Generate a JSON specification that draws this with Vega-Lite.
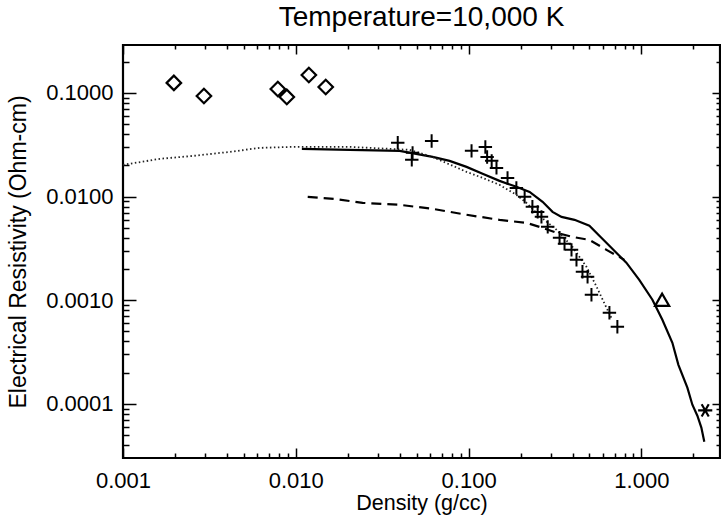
{
  "$schema": "https://vega.github.io/schema/vega-lite/v6.json",
  "width": 597,
  "height": 413,
  "autosize": "none",
  "padding": {"left": 123, "top": 45, "right": 1, "bottom": 58},
  "background": "white",
  "config": {
    "view": {"stroke": "black", "strokeWidth": 2.2},
    "font": "Liberation Sans",
    "axis": {"grid": false, "domain": false, "labelColor": "black", "titleColor": "black", "tickColor": "black", "tickWidth": 1.5, "labelFlush": false, "labelOverlap": false, "labelBound": false}
  },
  "title": {"text": "Temperature=10,000 K", "fontSize": 28, "font": "Liberation Sans", "fontWeight": "normal", "color": "black", "anchor": "middle", "frame": "group", "baseline": "alphabetic", "offset": -10},
  "datasets": {
    "solid": [
      {"x": 0.01084, "y": 0.02884}, {"x": 0.0205, "y": 0.02818}, {"x": 0.0399, "y": 0.02759}, {"x": 0.0619, "y": 0.02415},
      {"x": 0.0776, "y": 0.02208}, {"x": 0.0973, "y": 0.01933}, {"x": 0.1205, "y": 0.01656}, {"x": 0.151, "y": 0.01417},
      {"x": 0.189, "y": 0.01241}, {"x": 0.2254, "y": 0.01109}, {"x": 0.268, "y": 0.00889}, {"x": 0.306, "y": 0.00712},
      {"x": 0.345, "y": 0.00637}, {"x": 0.41, "y": 0.00596}, {"x": 0.5, "y": 0.00522}, {"x": 0.571, "y": 0.00418},
      {"x": 0.679, "y": 0.00313}, {"x": 0.818, "y": 0.0023}, {"x": 0.972, "y": 0.00157}, {"x": 1.158, "y": 0.00101},
      {"x": 1.322, "y": 0.000647}, {"x": 1.511, "y": 0.000388}, {"x": 1.637, "y": 0.000238}, {"x": 1.845, "y": 0.000143},
      {"x": 1.972, "y": 0.000098}, {"x": 2.108, "y": 0.0000767}, {"x": 2.223, "y": 0.0000589}, {"x": 2.312, "y": 0.0000431}
    ],
    "dashed": [
      {"x": 0.01172, "y": 0.00993}, {"x": 0.01679, "y": 0.0095}, {"x": 0.02438, "y": 0.00869}, {"x": 0.0399, "y": 0.00832},
      {"x": 0.0619, "y": 0.00761}, {"x": 0.0973, "y": 0.00667}, {"x": 0.151, "y": 0.00596}, {"x": 0.2163, "y": 0.00557},
      {"x": 0.257, "y": 0.0051}, {"x": 0.323, "y": 0.00447}, {"x": 0.399, "y": 0.00408}, {"x": 0.5, "y": 0.00382},
      {"x": 0.628, "y": 0.00306}, {"x": 0.798, "y": 0.00245}
    ],
    "dotted": [
      {"x": 0.001, "y": 0.02023}, {"x": 0.001637, "y": 0.02312}, {"x": 0.002543, "y": 0.02468}, {"x": 0.00415, "y": 0.02698},
      {"x": 0.00619, "y": 0.0295}, {"x": 0.00962, "y": 0.03015}, {"x": 0.0205, "y": 0.03015}, {"x": 0.0456, "y": 0.0282},
      {"x": 0.0619, "y": 0.0241}, {"x": 0.0973, "y": 0.0173}, {"x": 0.1205, "y": 0.01514}, {"x": 0.151, "y": 0.01297},
      {"x": 0.189, "y": 0.01039}, {"x": 0.2163, "y": 0.00869}, {"x": 0.257, "y": 0.00652}, {"x": 0.323, "y": 0.00477},
      {"x": 0.399, "y": 0.00327}, {"x": 0.481, "y": 0.0021}, {"x": 0.55, "y": 0.00135}, {"x": 0.628, "y": 0.000845},
      {"x": 0.679, "y": 0.000647}
    ],
    "plus": [
      {"x": 0.0389, "y": 0.033}, {"x": 0.0474, "y": 0.0264}, {"x": 0.0469, "y": 0.0226}, {"x": 0.0611, "y": 0.0344},
      {"x": 0.104, "y": 0.0276}, {"x": 0.125, "y": 0.0301}, {"x": 0.128, "y": 0.0241}, {"x": 0.136, "y": 0.0221},
      {"x": 0.145, "y": 0.0189}, {"x": 0.168, "y": 0.0151}, {"x": 0.189, "y": 0.0121}, {"x": 0.211, "y": 0.00993},
      {"x": 0.234, "y": 0.00796}, {"x": 0.251, "y": 0.00711}, {"x": 0.264, "y": 0.00637}, {"x": 0.287, "y": 0.0051},
      {"x": 0.336, "y": 0.004}, {"x": 0.359, "y": 0.0035}, {"x": 0.394, "y": 0.00306}, {"x": 0.421, "y": 0.00245},
      {"x": 0.456, "y": 0.00188}, {"x": 0.488, "y": 0.00168}, {"x": 0.514, "y": 0.00113}, {"x": 0.653, "y": 0.000756},
      {"x": 0.726, "y": 0.000554}
    ],
    "diamond": [
      {"x": 0.00197, "y": 0.125}, {"x": 0.00294, "y": 0.0935}, {"x": 0.00787, "y": 0.109},
      {"x": 0.00887, "y": 0.0915}, {"x": 0.0119, "y": 0.149}, {"x": 0.0149, "y": 0.114}
    ],
    "triangle": [{"x": 1.318, "y": 0.00101}],
    "star": [{"x": 2.34, "y": 0.0000863}]
  },
  "resolve": {"axis": {"x": "independent", "y": "independent"}},
  "layer": [
    {
      "data": {"name": "solid"},
      "mark": {"type": "line", "color": "black", "strokeWidth": 2.2},
      "encoding": {
        "x": {"field": "x", "type": "quantitative", "scale": {"type": "log", "domain": [0.001, 2.85], "nice": false},
          "axis": {"orient": "bottom", "values": [0.001, 0.01, 0.1, 1], "format": ".3f", "ticks": false, "tickSize": 0, "labelFontSize": 22, "labelPadding": 12, "title": "Density (g/cc)", "titleFontSize": 21.5, "titleFontWeight": "normal", "titlePadding": 1}},
        "y": {"field": "y", "type": "quantitative", "scale": {"type": "log", "domain": [0.00003, 0.29], "nice": false},
          "axis": {"orient": "left", "values": [0.0001, 0.001, 0.01, 0.1], "format": ".4f", "ticks": false, "tickSize": 0, "labelFontSize": 22, "labelPadding": 10, "title": "Electrical Resistivity (Ohm-cm)", "titleFontSize": 23, "titleFontWeight": "normal", "titlePadding": 15}}
      }
    },
    {
      "data": {"name": "dashed"},
      "mark": {"type": "line", "color": "black", "strokeWidth": 2.2, "strokeDash": [10, 6]},
      "encoding": {
        "x": {"field": "x", "type": "quantitative", "scale": {"type": "log", "domain": [0.001, 2.85], "nice": false},
          "axis": {"orient": "bottom", "values": [0.002, 0.003, 0.004, 0.005, 0.006, 0.007, 0.008, 0.009, 0.02, 0.03, 0.04, 0.05, 0.06, 0.07, 0.08, 0.09, 0.2, 0.3, 0.4, 0.5, 0.6, 0.7, 0.8, 0.9, 2], "labels": false, "tickSize": -5, "title": null}},
        "y": {"field": "y", "type": "quantitative", "scale": {"type": "log", "domain": [0.00003, 0.29], "nice": false},
          "axis": {"orient": "left", "values": [0.00004, 0.00005, 0.00006, 0.00007, 0.00008, 0.00009, 0.0002, 0.0003, 0.0004, 0.0005, 0.0006, 0.0007, 0.0008, 0.0009, 0.002, 0.003, 0.004, 0.005, 0.006, 0.007, 0.008, 0.009, 0.02, 0.03, 0.04, 0.05, 0.06, 0.07, 0.08, 0.09, 0.2], "labels": false, "tickSize": -6, "title": null}}
      }
    },
    {
      "data": {"name": "dotted"},
      "mark": {"type": "line", "color": "#222222", "strokeWidth": 1.8, "strokeDash": [1.5, 2.5]},
      "encoding": {
        "x": {"field": "x", "type": "quantitative", "scale": {"type": "log", "domain": [0.001, 2.85], "nice": false},
          "axis": {"orient": "top", "values": [0.001, 0.01, 0.1, 1], "labels": false, "tickSize": -9, "title": null}},
        "y": {"field": "y", "type": "quantitative", "scale": {"type": "log", "domain": [0.00003, 0.29], "nice": false},
          "axis": {"orient": "right", "values": [0.0001, 0.001, 0.01, 0.1], "labels": false, "tickSize": -8, "title": null}}
      }
    },
    {
      "data": {"name": "plus"},
      "mark": {"type": "point", "shape": "M-1,0L1,0M0,-1L0,1", "filled": false, "color": "black", "opacity": 1, "strokeWidth": 2, "size": 180},
      "encoding": {
        "x": {"field": "x", "type": "quantitative", "scale": {"type": "log", "domain": [0.001, 2.85], "nice": false},
          "axis": {"orient": "bottom", "values": [0.001, 0.01, 0.1, 1], "labels": false, "tickSize": -10, "title": null}},
        "y": {"field": "y", "type": "quantitative", "scale": {"type": "log", "domain": [0.00003, 0.29], "nice": false},
          "axis": {"orient": "left", "values": [0.0001, 0.001, 0.01, 0.1], "labels": false, "tickSize": -13, "title": null}}
      }
    },
    {
      "data": {"name": "diamond"},
      "mark": {"type": "point", "shape": "diamond", "filled": false, "color": "black", "opacity": 1, "strokeWidth": 2.2, "size": 210},
      "encoding": {
        "x": {"field": "x", "type": "quantitative", "scale": {"type": "log", "domain": [0.001, 2.85], "nice": false},
          "axis": {"orient": "top", "values": [0.002, 0.003, 0.004, 0.005, 0.006, 0.007, 0.008, 0.009, 0.02, 0.03, 0.04, 0.05, 0.06, 0.07, 0.08, 0.09, 0.2, 0.3, 0.4, 0.5, 0.6, 0.7, 0.8, 0.9, 2], "labels": false, "tickSize": -4, "title": null}},
        "y": {"field": "y", "type": "quantitative", "scale": {"type": "log", "domain": [0.00003, 0.29], "nice": false},
          "axis": {"orient": "right", "values": [0.00004, 0.00005, 0.00006, 0.00007, 0.00008, 0.00009, 0.0002, 0.0003, 0.0004, 0.0005, 0.0006, 0.0007, 0.0008, 0.0009, 0.002, 0.003, 0.004, 0.005, 0.006, 0.007, 0.008, 0.009, 0.02, 0.03, 0.04, 0.05, 0.06, 0.07, 0.08, 0.09, 0.2], "labels": false, "tickSize": -4, "title": null}}
      }
    },
    {
      "data": {"name": "triangle"},
      "mark": {"type": "point", "shape": "triangle-up", "filled": false, "color": "black", "opacity": 1, "strokeWidth": 2.2, "size": 200},
      "encoding": {
        "x": {"field": "x", "type": "quantitative", "scale": {"type": "log", "domain": [0.001, 2.85], "nice": false}, "axis": null},
        "y": {"field": "y", "type": "quantitative", "scale": {"type": "log", "domain": [0.00003, 0.29], "nice": false}, "axis": null}
      }
    },
    {
      "data": {"name": "star"},
      "mark": {"type": "point", "shape": "M-1,0L1,0M-0.5,-0.866L0.5,0.866M-0.5,0.866L0.5,-0.866", "filled": false, "color": "black", "opacity": 1, "strokeWidth": 2.2, "size": 200},
      "encoding": {
        "x": {"field": "x", "type": "quantitative", "scale": {"type": "log", "domain": [0.001, 2.85], "nice": false}, "axis": null},
        "y": {"field": "y", "type": "quantitative", "scale": {"type": "log", "domain": [0.00003, 0.29], "nice": false}, "axis": null}
      }
    }
  ]
}
